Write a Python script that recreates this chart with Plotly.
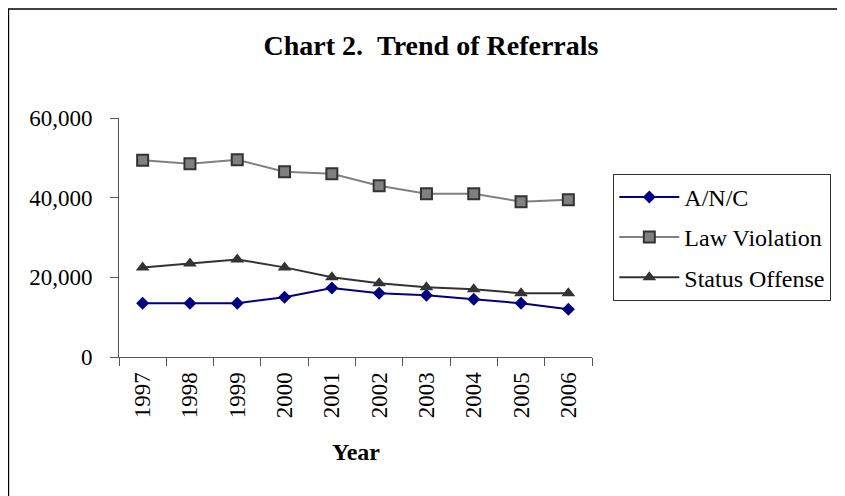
import plotly.graph_objects as go

years = ["1997", "1998", "1999", "2000", "2001", "2002", "2003", "2004", "2005", "2006"]
anc = [13500, 13500, 13500, 15000, 17300, 16000, 15500, 14500, 13500, 12000]
law_violation = [49400, 48500, 49500, 46500, 46000, 43000, 41000, 41000, 39000, 39500]
status_offense = [22500, 23500, 24500, 22500, 20000, 18500, 17500, 17000, 16000, 16000]
y_ticks = [0, 20000, 40000, 60000]

# page body has an 8px margin, so figure coordinates are window coordinates minus 8
OFF = 8
W, H = 845 - OFF, 496 - OFF
L, R, T, B = 119 - OFF, 591.7 - OFF, 117.7 - OFF, 356.7 - OFF
FONT = "Liberation Serif, Times New Roman, serif"

def px_x(p):
    return (p - OFF - L) / (R - L)

def px_y(p):
    return (B - (p - OFF)) / (B - T)

fig = go.Figure()
fig.add_trace(go.Scatter(
    x=years, y=anc, name="A/N/C", mode="lines+markers", legendgroup="a",
    line=dict(color="#000080", width=2),
    marker=dict(symbol="diamond", size=10, color="#000080", line=dict(width=0)),
))
fig.add_trace(go.Scatter(
    x=years, y=law_violation, name="Law Violation", mode="lines+markers", legendgroup="b",
    line=dict(color="#808080", width=2),
    marker=dict(symbol="square", size=11, color="#808080", line=dict(color="#333333", width=2)),
))
fig.add_trace(go.Scatter(
    x=years, y=status_offense, name="Status Offense", mode="lines+markers", legendgroup="c",
    line=dict(color="#333333", width=2),
    marker=dict(symbol="triangle-up", size=12, color="#333333", line=dict(width=0)),
))

fig.update_layout(
    width=W, height=H,
    margin=dict(l=L, r=W - R, t=T, b=H - B, pad=0),
    paper_bgcolor="white", plot_bgcolor="white",
    font=dict(family=FONT, color="black", size=23),
    title=dict(text="<b>Chart 2.&nbsp;&nbsp;Trend of Referrals</b>", x=(431 - OFF) / W, xanchor="center",
               y=1 - (45 - OFF) / H, yanchor="middle", font=dict(size=28, family=FONT, color="black")),
    xaxis=dict(type="category", range=[-0.5, 9.5], tickson="boundaries", ticks="outside", ticklen=8,
               tickcolor="#555555", showline=True, linecolor="#555555", linewidth=1, showgrid=False,
               tickangle=-90, tickfont=dict(size=23, family=FONT), ticklabelstandoff=5, zeroline=False),
    yaxis=dict(range=[0, 60000], tickvals=y_ticks, tickformat=",", ticks="outside", ticklen=8,
               tickcolor="#555555", showline=True, linecolor="#555555", linewidth=1, showgrid=False,
               zeroline=False, tickfont=dict(size=23, family=FONT), ticklabelstandoff=13),
    legend=dict(x=px_x(613), y=px_y(173.5), xanchor="left", yanchor="top", bordercolor="#333333",
                borderwidth=1, bgcolor="white", font=dict(size=24, family=FONT, color="black"),
                tracegroupgap=6, itemwidth=60, traceorder="grouped"),
    showlegend=True,
)

fig.add_annotation(text="<b>Year</b>", x=0.5, xref="paper", y=px_y(452), yref="paper",
                   xanchor="center", yanchor="middle", showarrow=False,
                   font=dict(size=24, family=FONT, color="black"))

fig.add_shape(type="rect", xref="paper", yref="paper",
              x0=px_x(8.5), x1=px_x(900), y0=px_y(560), y1=px_y(8.7),
              line=dict(color="black", width=1.5), fillcolor="rgba(0,0,0,0)", layer="below")

fig.write_html("out.html")
